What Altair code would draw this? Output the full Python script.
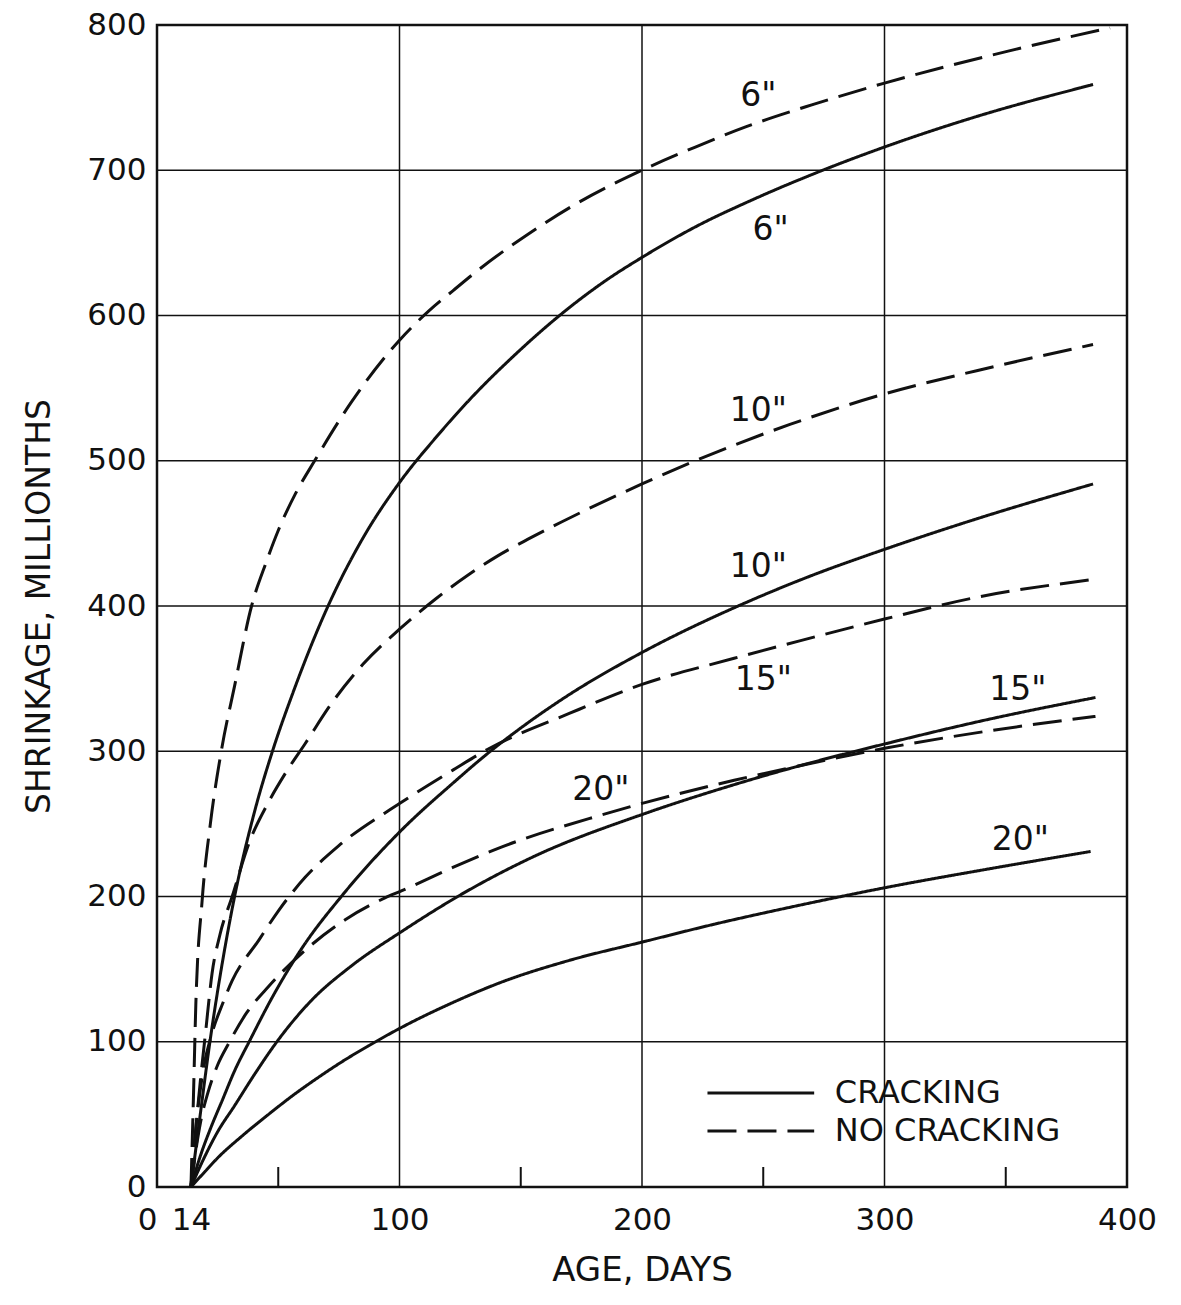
import altair as alt
import pandas as pd

# ---------------- data ----------------
# 6 in. slab, cracking (solid)
x6c = [14, 18, 22, 27, 32, 40, 48, 56, 70, 85, 100, 115, 130, 147, 166, 185, 200, 222, 246, 273, 300, 338, 386]
y6c = [0, 52, 102, 155, 200, 257, 302, 340, 398, 447, 485, 516, 544, 572, 600, 624, 640, 661, 680, 699, 716, 737, 759]
# 6 in. slab, no cracking (dashed)
x6n = [14, 15, 16, 18.6, 22, 26.5, 32, 39, 45, 50, 57, 65, 80, 100, 112, 122, 133, 153, 174, 200, 222, 243, 270, 300, 351, 393]
y6n = [0, 60, 125, 197, 250, 300, 345, 400, 430, 452, 477, 500, 540, 583, 603, 617, 632, 656, 678, 700, 716, 730, 745, 760, 782, 798]
# 10 in., cracking
x10c = [14, 18, 22, 27, 32, 38, 48, 60, 76, 101, 122, 136, 150, 170, 200, 241, 270, 300, 338, 386]
y10c = [0, 22, 40, 60, 80, 100, 132, 165, 200, 246, 278, 298, 316, 339, 368, 401, 421, 439, 460, 484]
# 10 in., no cracking
x10n = [14, 16, 18, 20, 22.7, 26, 31, 38, 46, 53, 61, 72, 85, 100, 115, 128, 140, 153, 167, 200, 222, 261, 300, 338, 386]
y10n = [0, 40, 75, 106, 147, 174, 200, 237, 265, 285, 305, 333, 360, 384, 405, 421, 434, 446, 458, 484, 500, 525, 546, 562, 580]
# 15 in., cracking
x15c = [14, 20, 25, 32, 40, 49, 64, 80, 101, 124, 156, 201, 238, 265, 300, 343, 387]
y15c = [0, 22, 38, 56, 77, 99, 129, 152, 176, 200, 228, 257, 277, 290, 305, 322, 337]
# 15 in., no cracking
x15n = [14, 16, 19, 22.7, 27, 31, 42, 50, 61, 75, 100, 122, 136, 170, 200, 238, 265, 300, 338, 385]
y15n = [0, 40, 80, 106, 126, 142, 170, 190, 213, 235, 264, 287, 301, 326, 346, 364, 376, 391, 406, 418]
# 20 in., cracking
x20c = [14, 20, 25, 35, 46, 56, 67, 77, 87, 101, 122, 142, 170, 201, 230, 265, 300, 343, 385]
y20c = [0, 11, 20, 35, 50, 63, 76, 87, 97, 110, 127, 141, 156, 169, 181, 194, 206, 219, 231]
# 20 in., no cracking
x20n = [14, 16, 18, 21, 25, 29.6, 37, 46, 62.5, 77.6, 94, 101, 122, 142, 183, 202, 238, 265, 300, 343, 387]
y20n = [0, 25, 45, 65, 84, 99, 120, 138, 165, 184, 199, 204, 220, 234, 256, 265, 280, 290, 302, 314, 324]

conditions = ["CRACKING", "NO CRACKING"]

# curve labels
label_text = ['6"', '6"', '10"', '10"', '15"', '15"', '20"', '20"']
label_day = [248, 253, 248, 248, 250, 355, 183, 356]
label_shr = [751, 659, 534, 427, 349, 342, 273, 239]

# axis values
x_label_values = [0, 14, 100, 200, 300, 400]
x_grid_values = [100, 200, 300]
x_minor_ticks = [50, 150, 250, 350]
y_values = [0, 100, 200, 300, 400, 500, 600, 700, 800]
y_grid_values = [100, 200, 300, 400, 500, 600, 700]

# legend rows (drawn in data units inside the plot)
legend_day_start = [227, 227]
legend_day_end = [271, 271]
legend_shr = [64.7, 38.6]
legend_text_day = [279.5, 279.5]

# ---------------- build tables ----------------
series = [
    ('6 c', "CRACKING", x6c, y6c), ('6 n', "NO CRACKING", x6n, y6n),
    ('10 c', "CRACKING", x10c, y10c), ('10 n', "NO CRACKING", x10n, y10n),
    ('15 c', "CRACKING", x15c, y15c), ('15 n', "NO CRACKING", x15n, y15n),
    ('20 c', "CRACKING", x20c, y20c), ('20 n', "NO CRACKING", x20n, y20n),
]
rows = []
for name, cond, xs, ys in series:
    for i, (a, b) in enumerate(zip(xs, ys)):
        rows.append({"series": name, "cond": cond, "day": a, "shr": b, "order": i})
curves = pd.DataFrame(rows)

labels_df = pd.DataFrame({"text": label_text, "day": label_day, "shr": label_shr})
legend_df = pd.DataFrame({"cond": conditions, "day": legend_day_start,
                          "day2": legend_day_end, "shr": legend_shr,
                          "tday": legend_text_day})
xgrid_df = pd.DataFrame({"day": x_grid_values})
ygrid_df = pd.DataFrame({"shr": y_grid_values})
minor_df = pd.DataFrame({"day": x_minor_ticks})

# ---------------- styling ----------------
W, H = 970, 1162
FONT = "DejaVu Sans"
INK = "#111111"

xscale = alt.Scale(domain=[0, 400], nice=False, zero=False)
yscale = alt.Scale(domain=[0, 800], nice=False, zero=False)
dash_scale = alt.Scale(domain=conditions, range=[[1, 0], [29, 11]])

x_axis = alt.Axis(values=x_label_values, format="d", ticks=False, domain=False, grid=False,
                  labelFont=FONT, labelFontSize=31, labelColor=INK, labelPadding=18,
                  labelAlign={"expr": "datum.value == 0 ? 'right' : 'center'"},
                  labelFlush=False, labelOverlap=False,
                  titleFont=FONT, titleFontSize=34, titleFontWeight="normal",
                  titleColor=INK, titlePadding=18)
y_axis = alt.Axis(values=y_values, format="d", ticks=False, domain=False, grid=False,
                  labelFont=FONT, labelFontSize=31, labelColor=INK, labelPadding=11,
                  labelFlush=False, labelOverlap=False,
                  titleFont=FONT, titleFontSize=33, titleFontWeight="normal",
                  titleColor=INK, titlePadding=30)

X = lambda f: alt.X(f, type="quantitative", scale=xscale, axis=x_axis, title="AGE, DAYS")
Y = lambda f: alt.Y(f, type="quantitative", scale=yscale, axis=y_axis, title="SHRINKAGE, MILLIONTHS")

xgrid = alt.Chart(xgrid_df).mark_rule(color=INK, strokeWidth=1.5).encode(x=X("day"))
ygrid = alt.Chart(ygrid_df).mark_rule(color=INK, strokeWidth=1.5).encode(y=Y("shr"))
minor = alt.Chart(minor_df).mark_rule(color=INK, strokeWidth=2).encode(
    x=X("day"), y=alt.value(H), y2=alt.value(H - 20))

lines = alt.Chart(curves).mark_line(color=INK, strokeWidth=3, interpolate="monotone").encode(
    x=X("day"), y=Y("shr"), detail="series:N", order="order:Q",
    strokeDash=alt.StrokeDash("cond:N", scale=dash_scale, legend=None))

texts = alt.Chart(labels_df).mark_text(font=FONT, fontSize=33, color=INK,
                                       align="center", baseline="middle").encode(
    x=X("day"), y=Y("shr"), text="text:N")

leg_lines = alt.Chart(legend_df).mark_rule(color=INK, strokeWidth=3).encode(
    x=X("day"), x2="day2:Q", y=Y("shr"),
    strokeDash=alt.StrokeDash("cond:N", scale=dash_scale, legend=None))
leg_text = alt.Chart(legend_df).mark_text(font=FONT, fontSize=32, color=INK,
                                          align="left", baseline="middle").encode(
    x=X("tday"), y=Y("shr"), text="cond:N")

chart = alt.layer(xgrid, ygrid, minor, lines, texts, leg_lines, leg_text).properties(
    width=W, height=H,
    autosize=alt.AutoSizeParams(type="none"),
    padding={"left": 157, "top": 25, "right": 54, "bottom": 118},
    background="white",
).configure_view(stroke=INK, strokeWidth=2.5)

chart.save("out.html", embed_options={"renderer": "svg", "actions": False})
